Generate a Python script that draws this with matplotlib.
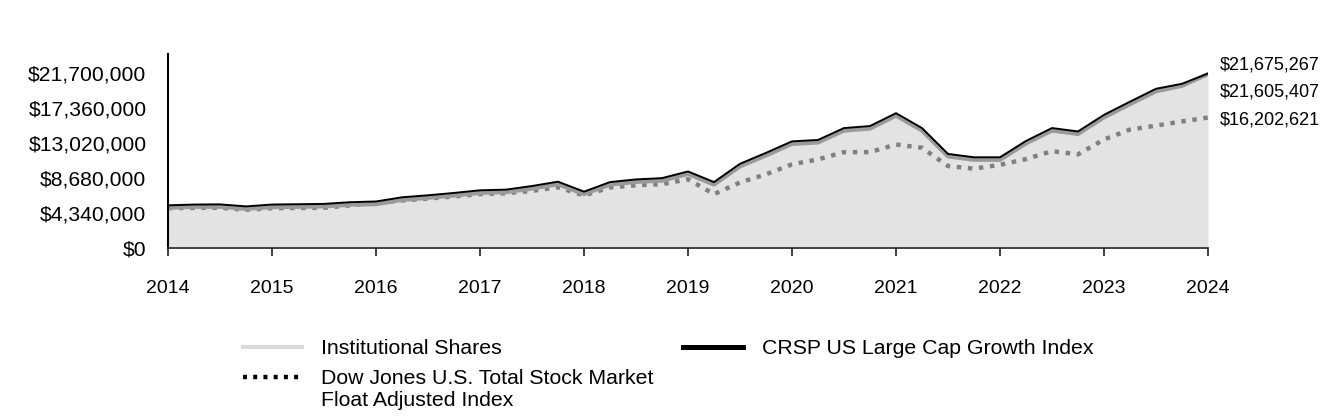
import matplotlib
matplotlib.use("Agg")
import matplotlib.pyplot as plt
from matplotlib.lines import Line2D
from matplotlib.ticker import FuncFormatter
import numpy as np

plt.rcParams.update({
    'font.family': ['Liberation Sans', 'DejaVu Sans'],
})

# quarterly values, 2014 Q1 .. 2024 Q1 (41 points)
start_year = 2014
institutional = [5.00, 5.12, 5.12, 4.87, 5.08, 5.12, 5.17, 5.38, 5.45, 5.98,
                 6.24, 6.52, 6.86, 6.94, 7.39, 7.93, 6.70, 7.88, 8.21, 8.37,
                 9.20, 7.88, 10.15, 11.50, 12.94, 13.11, 14.59, 14.84, 16.44, 14.59,
                 11.38, 10.96, 10.96, 13.00, 14.59, 14.17, 16.23, 17.87, 19.47, 20.15,
                 21.605407]
crsp = [5.30, 5.40, 5.42, 5.17, 5.40, 5.44, 5.48, 5.69, 5.78, 6.30,
        6.55, 6.84, 7.17, 7.25, 7.70, 8.24, 7.00, 8.19, 8.52, 8.68,
        9.51, 8.19, 10.46, 11.82, 13.25, 13.42, 14.90, 15.15, 16.75, 14.90,
        11.69, 11.27, 11.27, 13.30, 14.90, 14.48, 16.54, 18.18, 19.78, 20.40,
        21.675267]
dow = [4.95, 4.98, 5.00, 4.75, 4.95, 4.97, 5.00, 5.30, 5.60, 5.90,
       6.15, 6.40, 6.70, 6.80, 7.10, 7.55, 6.53, 7.52, 7.80, 7.93,
       8.54, 6.69, 8.14, 9.16, 10.39, 11.01, 11.91, 11.91, 12.86, 12.45,
       10.18, 9.86, 10.33, 11.05, 12.03, 11.63, 13.48, 14.71, 15.20, 15.73,
       16.202621]
end_labels = ['$21,675,267', '$21,605,407', '$16,202,621']
yticks = [0, 4340000, 8680000, 13020000, 17360000, 21700000]
xticks = list(range(2014, 2025))

x = start_year + np.arange(len(institutional)) / 4
inst = np.array(institutional) * 1e6
crsp_v = np.array(crsp) * 1e6
dow_v = np.array(dow) * 1e6

fig = plt.figure(figsize=(13.44, 4.2), dpi=100)
ax = fig.add_axes([0.125, 0.4095, 0.7738, 0.4619])

ax.fill_between(x, 0, inst, color='#e3e3e3', linewidth=0)
ax.plot(x, dow_v, color='#808080', linewidth=3.2, linestyle=(0, (1.0, 1.5)))
ax.plot(x, inst, color='#9a9a9a', linewidth=3)
ax.plot(x, crsp_v, color='black', linewidth=1.4)

ax.set_xlim(2014, 2024)
ax.set_ylim(0, 24.1e6)
ax.set_yticks(yticks)
ax.yaxis.set_major_formatter(FuncFormatter(lambda v, p: f'${v:,.0f}'))
ax.set_xticks(xticks)
ax.tick_params(axis='y', length=0, pad=15.5, labelsize=15.2)
ax.tick_params(axis='x', length=5.8, width=1.3, color='#333333', pad=17, labelsize=14)

for s in ['top', 'right']:
    ax.spines[s].set_visible(False)
ax.spines['left'].set_linewidth(1.5)
ax.spines['left'].set_color('black')
ax.spines['bottom'].set_linewidth(1.3)
ax.spines['bottom'].set_color('#333333')

# end value labels
ends = [crsp_v[-1], inst[-1], dow_v[-1]]
offsets = [6.5, -13, -1.5]
for val, lab, off in zip(ends, end_labels, offsets):
    ax.annotate(lab, xy=(x[-1], val), xytext=(8.5, off), textcoords='offset points',
                ha='left', va='center', fontsize=13, annotation_clip=False)

# legend drawn manually
def px(xp, yp):
    return xp / 1344, 1 - yp / 420

def handle(x0, x1, yp, **kw):
    (a, b), (c, _) = px(x0, yp), px(x1, yp)
    fig.add_artist(Line2D([a, c], [b, b], transform=fig.transFigure, **kw))

handle(243, 302, 347, color='#d9d9d9', linewidth=3)
handle(683, 743, 347, color='black', linewidth=3.6)
handle(243, 302, 377, color='black', linewidth=3.2, linestyle=(0, (0.9, 1.4)))
fig.text(*px(321, 348.5), 'Institutional Shares', fontsize=15.3, va='center')
fig.text(*px(762, 348.5), 'CRSP US Large Cap Growth Index', fontsize=15.3, va='center')
fig.text(*px(321, 369), 'Dow Jones U.S. Total Stock Market\nFloat Adjusted Index',
         fontsize=15.3, va='top', linespacing=1.2)

fig.savefig('out.png', dpi=100)
